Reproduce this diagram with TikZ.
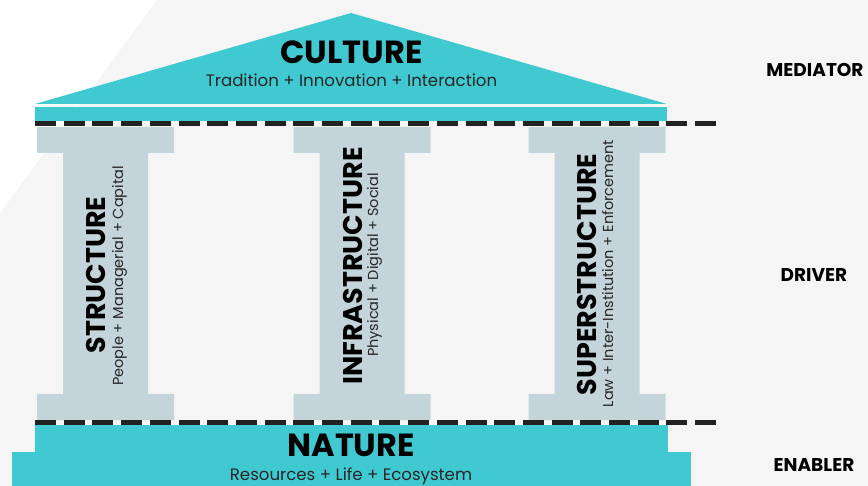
\documentclass[tikz,border=0pt]{standalone}
\usepackage{fontspec}
\setmainfont{Poppins}
\begin{document}
\begin{tikzpicture}[x=1pt,y=-1pt,
  teal/.style={fill=tealc},
  column/.style={fill=columnc},
  rule/.style={draw=rulec,line width=5pt,dash pattern=on 21pt off 7.7pt},
  title/.style={inner sep=0pt,anchor=base,font=\bfseries\fontsize{32}{32}\selectfont,text=black},
  subtitle/.style={inner sep=0pt,anchor=base,font=\fontsize{16.6}{16.6}\selectfont,text=black!85},
  coltitle/.style={title,rotate=90,font=\bfseries\fontsize{27}{27}\selectfont},
  colsub/.style={subtitle,rotate=90,font=\fontsize{14.5}{14.5}\selectfont},
  level/.style={inner sep=0pt,anchor=base,font=\bfseries\fontsize{18.5}{18.5}\selectfont,text=black}]
\definecolor{tealc}{HTML}{40C9D0}
\definecolor{columnc}{HTML}{C3D5DA}
\definecolor{rulec}{HTML}{222222}
\definecolor{bgc}{HTML}{F5F5F5}
\useasboundingbox (0,0) rectangle (868,486);
% backdrop
\fill[bgc] (0,0) rectangle (868,486);
\fill[white] (0,0) -- (157,0) -- (0,213) -- cycle;
% pediment and entablature
\fill[teal] (35,104) -- (351,13) -- (667,104) -- cycle;
\fill[teal] (35,107) rectangle (667,121);
% columns
\foreach \c in {105.5,362,597}{
  \fill[column] (\c-68.5,127) -- (\c+68.5,127) -- (\c+68.5,153) -- (\c+42.5,153)
    -- (\c+42.5,394) -- (\c+68.5,394) -- (\c+68.5,420) -- (\c-68.5,420)
    -- (\c-68.5,394) -- (\c-42.5,394) -- (\c-42.5,153) -- (\c-68.5,153) -- cycle;
}
% stylobate
\fill[teal] (35,425) rectangle (668,452);
\fill[teal] (12,452) rectangle (691,486);
% level rules
\coordinate (topL) at (35,123.5);
\coordinate (topR) at (716,123.5);
\coordinate (botL) at (35,422.5);
\coordinate (botR) at (716,422.5);
\draw[rule] (topL) -- (topR);
\draw[rule] (botL) -- (botR);
% texts
\node[title] (culture) at (351.5,64) {CULTURE};
\node[subtitle] (culturesub) at (351.5,87) {Tradition + Innovation + Interaction};
\node[title] (nature) at (351,456.5) {NATURE};
\node[subtitle] (naturesub) at (351,480.5) {Resources + Life + Ecosystem};
\node[coltitle] (structure) at (105,275) {STRUCTURE};
\node[colsub] (structuresub) at (123,276) {People + Managerial + Capital};
\node[coltitle] (infra) at (362,266) {INFRASTRUCTURE};
\node[colsub] (infrasub) at (378,265) {Physical + Digital + Social};
\node[coltitle] (super) at (596,274.5) {SUPERSTRUCTURE};
\node[colsub] (supersub) at (613,273.5) {Law + Inter-Institution + Enforcement};
\node[level] (mediator) at (815,77) {MEDIATOR};
\node[level] (driver) at (814,282) {DRIVER};
\node[level] (enabler) at (814,471) {ENABLER};
\end{tikzpicture}
\end{document}
